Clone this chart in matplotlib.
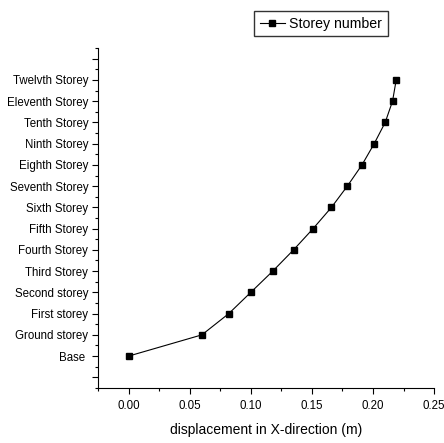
import matplotlib
matplotlib.use('Agg')
import matplotlib.pyplot as plt
from matplotlib.ticker import MultipleLocator, FormatStrFormatter

plt.rcParams['font.family'] = ['Liberation Sans', 'DejaVu Sans']
plt.rcParams['xtick.labelsize'] = 8.3
plt.rcParams['ytick.labelsize'] = 8.3

# storey labels, bottom to top
storeys = ['Base ', 'Ground storey', 'First storey', 'Second storey', 'Third Storey',
           'Fourth Storey', 'Fifth Storey', 'Sixth Storey', 'Seventh Storey',
           'Eighth Storey', 'Ninth Storey', 'Tenth Storey', 'Eleventh Storey',
           'Twelvth Storey']
displacement = [0.0, 0.060, 0.082, 0.100, 0.118, 0.135, 0.151, 0.166, 0.179,
                0.191, 0.201, 0.210, 0.216, 0.219]
level = list(range(len(storeys)))

fig = plt.figure(figsize=(4.44, 4.43), dpi=100)
ax = fig.add_axes([0.2207, 0.1242, 0.757, 0.7674])

line, = ax.plot(displacement, level, color='black', linewidth=0.8,
                marker='s', markersize=5, label='Storey number')

ax.set_xlim(-0.025, 0.25)
ax.set_ylim(-1.5, 14.5)
ax.set_yticks([-1] + level + [14])
ax.set_yticklabels([''] + storeys + [''])
ax.yaxis.set_minor_locator(MultipleLocator(0.5))
ax.xaxis.set_major_locator(MultipleLocator(0.05))
ax.xaxis.set_minor_locator(MultipleLocator(0.025))
ax.xaxis.set_major_formatter(FormatStrFormatter('%.2f'))

ax.spines['top'].set_visible(False)
ax.spines['right'].set_visible(False)
ax.tick_params(which='major', length=4, width=0.8, pad=3)
ax.tick_params(which='minor', length=2, width=0.8)
ax.tick_params(axis='x', which='major', pad=4.8)
ax.set_xlabel('displacement in X-direction (m)', fontsize=10, labelpad=7.5)

fig.legend(handles=[line], loc='upper left', bbox_to_anchor=(0.572, 0.975),
           fontsize=10.2, frameon=True, fancybox=False, edgecolor='black',
           borderpad=0.4, handlelength=1.8, handletextpad=0.3,
           borderaxespad=0)

fig.savefig('out.png', dpi=100)
